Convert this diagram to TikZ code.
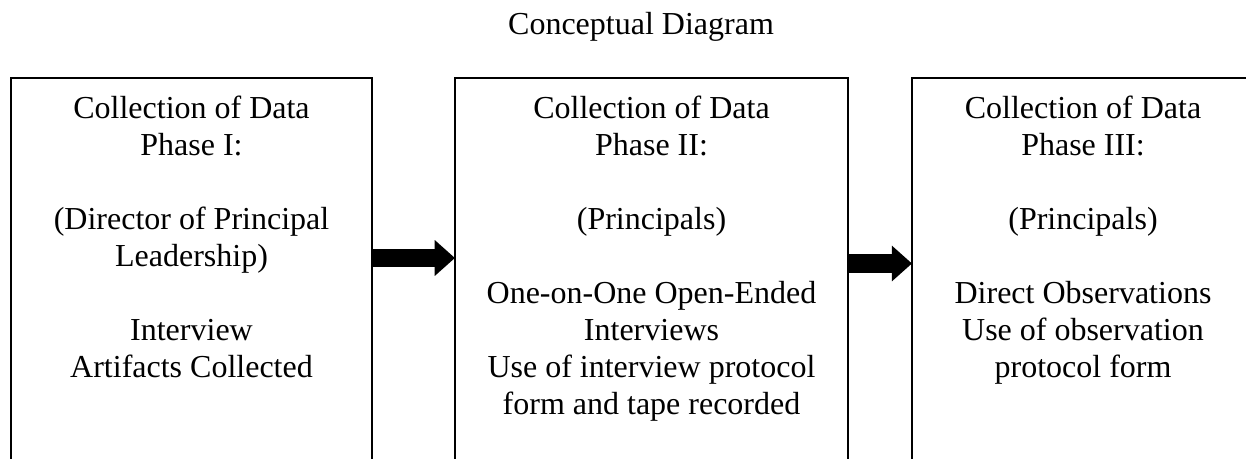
\documentclass[tikz,border=0pt]{standalone}
\usepackage{fontspec}
\setmainfont{Liberation Serif}
\usetikzlibrary{arrows.meta, positioning}

\begin{document}
\begin{tikzpicture}[x=0.375pt, y=0.375pt,
    phase/.style={rectangle, draw, line width=0.75pt, anchor=north, align=center, outer sep=0pt,
                  font=\fontsize{12pt}{13.9pt}\selectfont, inner xsep=0pt, inner ysep=6.7pt, text depth=180pt},
    flow/.style={line width=6.8pt, -{Triangle[length=7.6pt, width=13pt]}}]

    \useasboundingbox (0,0) rectangle (1246,-459);
    \clip (0,0) rectangle (1246,-459);

    % Title
    \node[anchor=base, font=\fontsize{12pt}{13.9pt}\selectfont] (T) at (641,-35) {Conceptual Diagram};

    % Phase I
    \node[phase, minimum width=135.4pt] (P1) at (191.5,-78) {
        Collection of Data\\ Phase I:\\ \\ (Director of Principal\\ Leadership)\\ \\ Interview\\ Artifacts Collected
    };

    % Phase II
    \node[phase, minimum width=147.4pt] (P2) at (651.5,-78) {
        Collection of Data\\ Phase II:\\ \\ (Principals)\\ \\ One-on-One Open-Ended\\ Interviews\\ Use of interview protocol\\ form and tape recorded
    };

    % Phase III
    \node[phase, minimum width=128.25pt] (P3) at (1083,-78) {
        Collection of Data\\ Phase III:\\ \\ (Principals)\\ \\ Direct Observations\\ Use of observation\\ protocol form
    };

    % Arrows
    \coordinate (A1) at (0,-258);
    \coordinate (A2) at (0,-263.5);
    \draw[flow] (P1.east |- A1) -- (P2.west |- A1);
    \draw[flow] (P2.east |- A2) -- (P3.west |- A2);
\end{tikzpicture}
\end{document}
